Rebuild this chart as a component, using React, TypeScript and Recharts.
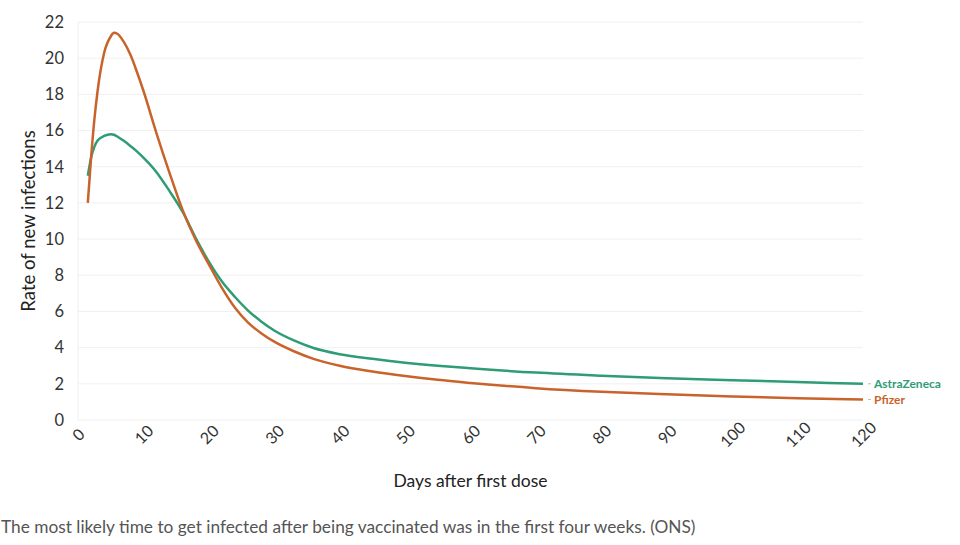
import { LineChart, Line, XAxis, YAxis, CartesianGrid } from "recharts"

const DAYS = [1.5, 2, 2.5, 3, 4, 5, 5.5, 6, 7, 8, 9, 10, 12, 14, 16, 18, 20, 22, 24, 26, 28, 30, 33, 36, 40, 45, 50, 55, 60, 70, 80, 90, 100, 110, 120]
const PFIZER = [12.0, 14.5, 16.6, 18.2, 20.3, 21.2, 21.4, 21.35, 20.9, 20.2, 19.25, 18.2, 15.85, 13.65, 11.6, 9.95, 8.6, 7.3, 6.2, 5.38, 4.8, 4.33, 3.8, 3.38, 3.0, 2.68, 2.43, 2.22, 2.05, 1.76, 1.56, 1.42, 1.3, 1.2, 1.13]
const ASTRA = [13.5, 14.5, 15.1, 15.45, 15.7, 15.8, 15.77, 15.67, 15.43, 15.15, 14.85, 14.5, 13.7, 12.65, 11.5, 10.05, 8.75, 7.65, 6.8, 6.05, 5.45, 4.95, 4.4, 3.98, 3.64, 3.38, 3.17, 3.0, 2.86, 2.62, 2.45, 2.31, 2.2, 2.1, 2.0]

const X_TICKS = [0, 10, 20, 30, 40, 50, 60, 70, 80, 90, 100, 110, 120]
const Y_TICKS = [0, 2, 4, 6, 8, 10, 12, 14, 16, 18, 20, 22]

const ORANGE = "#c8632b"
const GREEN = "#2e9c74"
const FONT = "Lato, 'Open Sans', sans-serif"

const data = DAYS.map((d, i) => ({ day: d, pfizer: PFIZER[i], astra: ASTRA[i] }))

function XTick(props: any) {
  const { x, y, payload } = props
  const cy = y + 6
  return (
    <text
      x={x}
      y={cy}
      textAnchor="middle"
      dominantBaseline="central"
      transform={`rotate(-45 ${x} ${cy})`}
      fontSize={16}
      fill="#333"
      fontFamily={FONT}
    >
      {payload.value}
    </text>
  )
}

function endLabel(name: string, color: string) {
  return (props: any) => {
    const { x, y, index } = props
    if (index !== data.length - 1) return null
    return (
      <g>
        <line x1={x + 5} x2={x + 8} y1={y} y2={y} stroke="#bbb" strokeWidth={1} />
        <text x={x + 11} y={y} dominantBaseline="central" fontSize={12} fontWeight={700} fill={color} fontFamily={FONT}>
          {name}
        </text>
      </g>
    )
  }
}

export default function App() {
  return (
    <div style={{ position: "absolute", left: 0, top: 0, width: 960, height: 545, background: "#fff", fontFamily: FONT }}>
      <LineChart width={960} height={500} data={data} margin={{ top: 22, right: 97, bottom: 0, left: 28 }}>
        <CartesianGrid vertical={false} stroke="#f0f0f0" />
        <XAxis
          dataKey="day"
          type="number"
          domain={[0, 120]}
          ticks={X_TICKS}
          axisLine={false}
          tickLine={false}
          tick={<XTick />}
          height={80}
          label={{ value: "Days after first dose", position: "insideBottom", offset: 13, fill: "#222", fontSize: 17.5, fontFamily: FONT }}
        />
        <YAxis
          type="number"
          domain={[0, 22]}
          ticks={Y_TICKS}
          width={50}
          axisLine={{ stroke: "#f0f0f0" }}
          tickLine={false}
          tickMargin={8}
          tick={{ fill: "#333", fontSize: 16.5, fontFamily: FONT }}
          label={{ value: "Rate of new infections", angle: -90, position: "insideLeft", offset: 0, fill: "#222", fontSize: 18.5, fontFamily: FONT, style: { textAnchor: "middle" } }}
        />
        <Line
          type="monotone"
          dataKey="astra"
          stroke={GREEN}
          strokeWidth={2.5}
          dot={false}
          isAnimationActive={false}
          label={endLabel("AstraZeneca", GREEN)}
        />
        <Line
          type="monotone"
          dataKey="pfizer"
          stroke={ORANGE}
          strokeWidth={2.5}
          dot={false}
          isAnimationActive={false}
          label={endLabel("Pfizer", ORANGE)}
        />
      </LineChart>
      <div style={{ position: "absolute", left: 1, top: 516, fontSize: 17.3, color: "#555", fontFamily: FONT, whiteSpace: "nowrap" }}>
        The most likely time to get infected after being vaccinated was in the first four weeks. (ONS)
      </div>
    </div>
  )
}
